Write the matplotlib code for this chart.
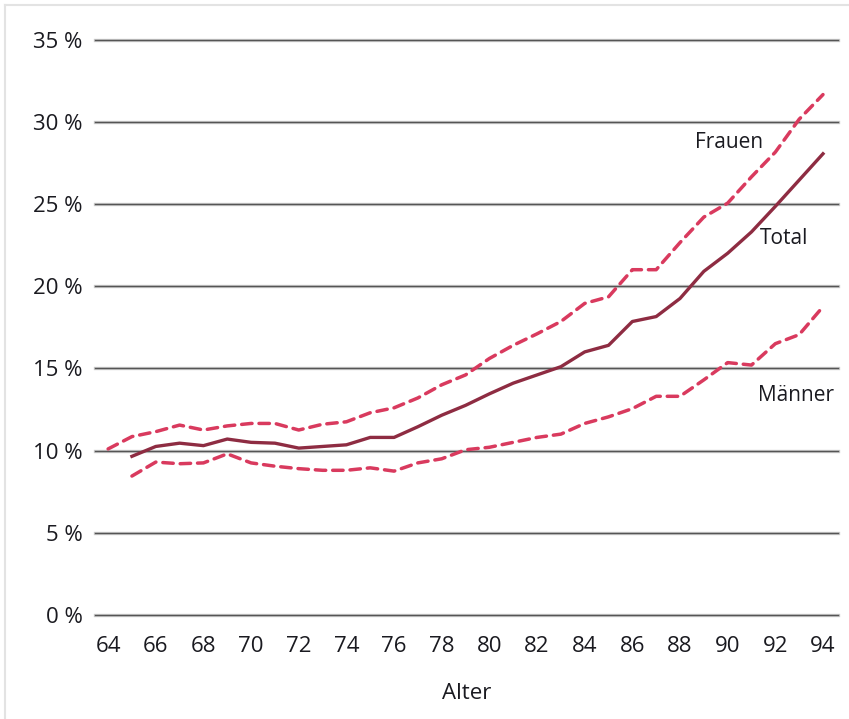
import numpy as np
import matplotlib
matplotlib.use("Agg")
import matplotlib.pyplot as plt
from matplotlib.lines import Line2D

plt.rcParams['font.family'] = ['Open Sans', 'DejaVu Sans']

# data (share in %)
age_f = list(range(64, 95))
frauen = [10.1, 10.85, 11.15, 11.55, 11.25, 11.5, 11.65, 11.65, 11.25, 11.6, 11.75,
          12.3, 12.6, 13.2, 14.0, 14.6, 15.6, 16.4, 17.1, 17.85, 18.95, 19.35,
          21.0, 21.0, 22.65, 24.2, 25.05, 26.65, 28.15, 30.15, 31.65]

age_t = list(range(65, 95))
total = [9.65, 10.25, 10.45, 10.3, 10.7, 10.5, 10.45, 10.15, 10.25, 10.35,
         10.8, 10.8, 11.45, 12.15, 12.75, 13.45, 14.1, 14.6, 15.1, 16.0, 16.4,
         17.85, 18.15, 19.25, 20.9, 22.0, 23.3, 24.85, 26.45, 28.05]

age_m = list(range(65, 95))
maenner = [8.45, 9.3, 9.2, 9.25, 9.8, 9.25, 9.05, 8.9, 8.8, 8.8,
           8.95, 8.75, 9.25, 9.5, 10.05, 10.2, 10.5, 10.8, 11.0, 11.65, 12.05,
           12.55, 13.3, 13.3, 14.3, 15.35, 15.2, 16.5, 17.05, 18.75]

y_ticks = [0, 5, 10, 15, 20, 25, 30, 35]
x_ticks = list(range(64, 95, 2))

DASH_COLOR = '#d93a5e'
TOTAL_COLOR = '#8e2c42'
GRID_COLOR = '#555555'
TEXT_COLOR = '#1a1a20'

fig = plt.figure(figsize=(8.49, 7.19), dpi=100)
W, H = 849, 719
ax = fig.add_axes([95 / W, 1 - 615 / H, (838 - 95) / W, (615 - 39.5) / H])

ax.set_xlim(63.45, 94.63)
ax.set_ylim(0, 35)

for v in y_ticks:
    ax.axhline(v, color='#cccccc', lw=2.4, zorder=1, clip_on=False)
    ax.axhline(v, color=GRID_COLOR, lw=1.0, zorder=1.1, clip_on=False)

ax.plot(age_f, frauen, color=DASH_COLOR, lw=2.5, ls=(0, (3, 2)),
        dash_capstyle='round', zorder=3)
ax.plot(age_m, maenner, color=DASH_COLOR, lw=2.5, ls=(0, (3, 2)),
        dash_capstyle='round', zorder=3)
ax.plot(age_t, total, color=TOTAL_COLOR, lw=2.4, zorder=4)

ax.text(90.05, 28.75, 'Frauen', fontsize=15, color=TEXT_COLOR, ha='center', va='center')
ax.text(92.35, 22.9, 'Total', fontsize=15, color=TEXT_COLOR, ha='center', va='center')
ax.text(92.85, 13.35, 'Männer', fontsize=15, color=TEXT_COLOR, ha='center', va='center')

ax.set_yticks(y_ticks)
ax.set_yticklabels([f'{v} %' for v in y_ticks])
ax.set_xticks(x_ticks)
ax.set_xticklabels([str(v) for v in x_ticks])
ax.tick_params(axis='both', length=0, labelsize=16, colors=TEXT_COLOR)
ax.tick_params(axis='y', pad=9)
ax.tick_params(axis='x', pad=15)
ax.set_xlabel('Alter', fontsize=16, color=TEXT_COLOR, labelpad=19)
for spine in ax.spines.values():
    spine.set_visible(False)

# light frame of the screenshot (top and left edge)
fig.add_artist(Line2D([5 / W, 1], [1 - 5 / H, 1 - 5 / H], color='#e3e3e3', lw=1.5))
fig.add_artist(Line2D([5 / W, 5 / W], [0, 1 - 5 / H], color='#e3e3e3', lw=1.5))

fig.savefig('out.png', dpi=100)
